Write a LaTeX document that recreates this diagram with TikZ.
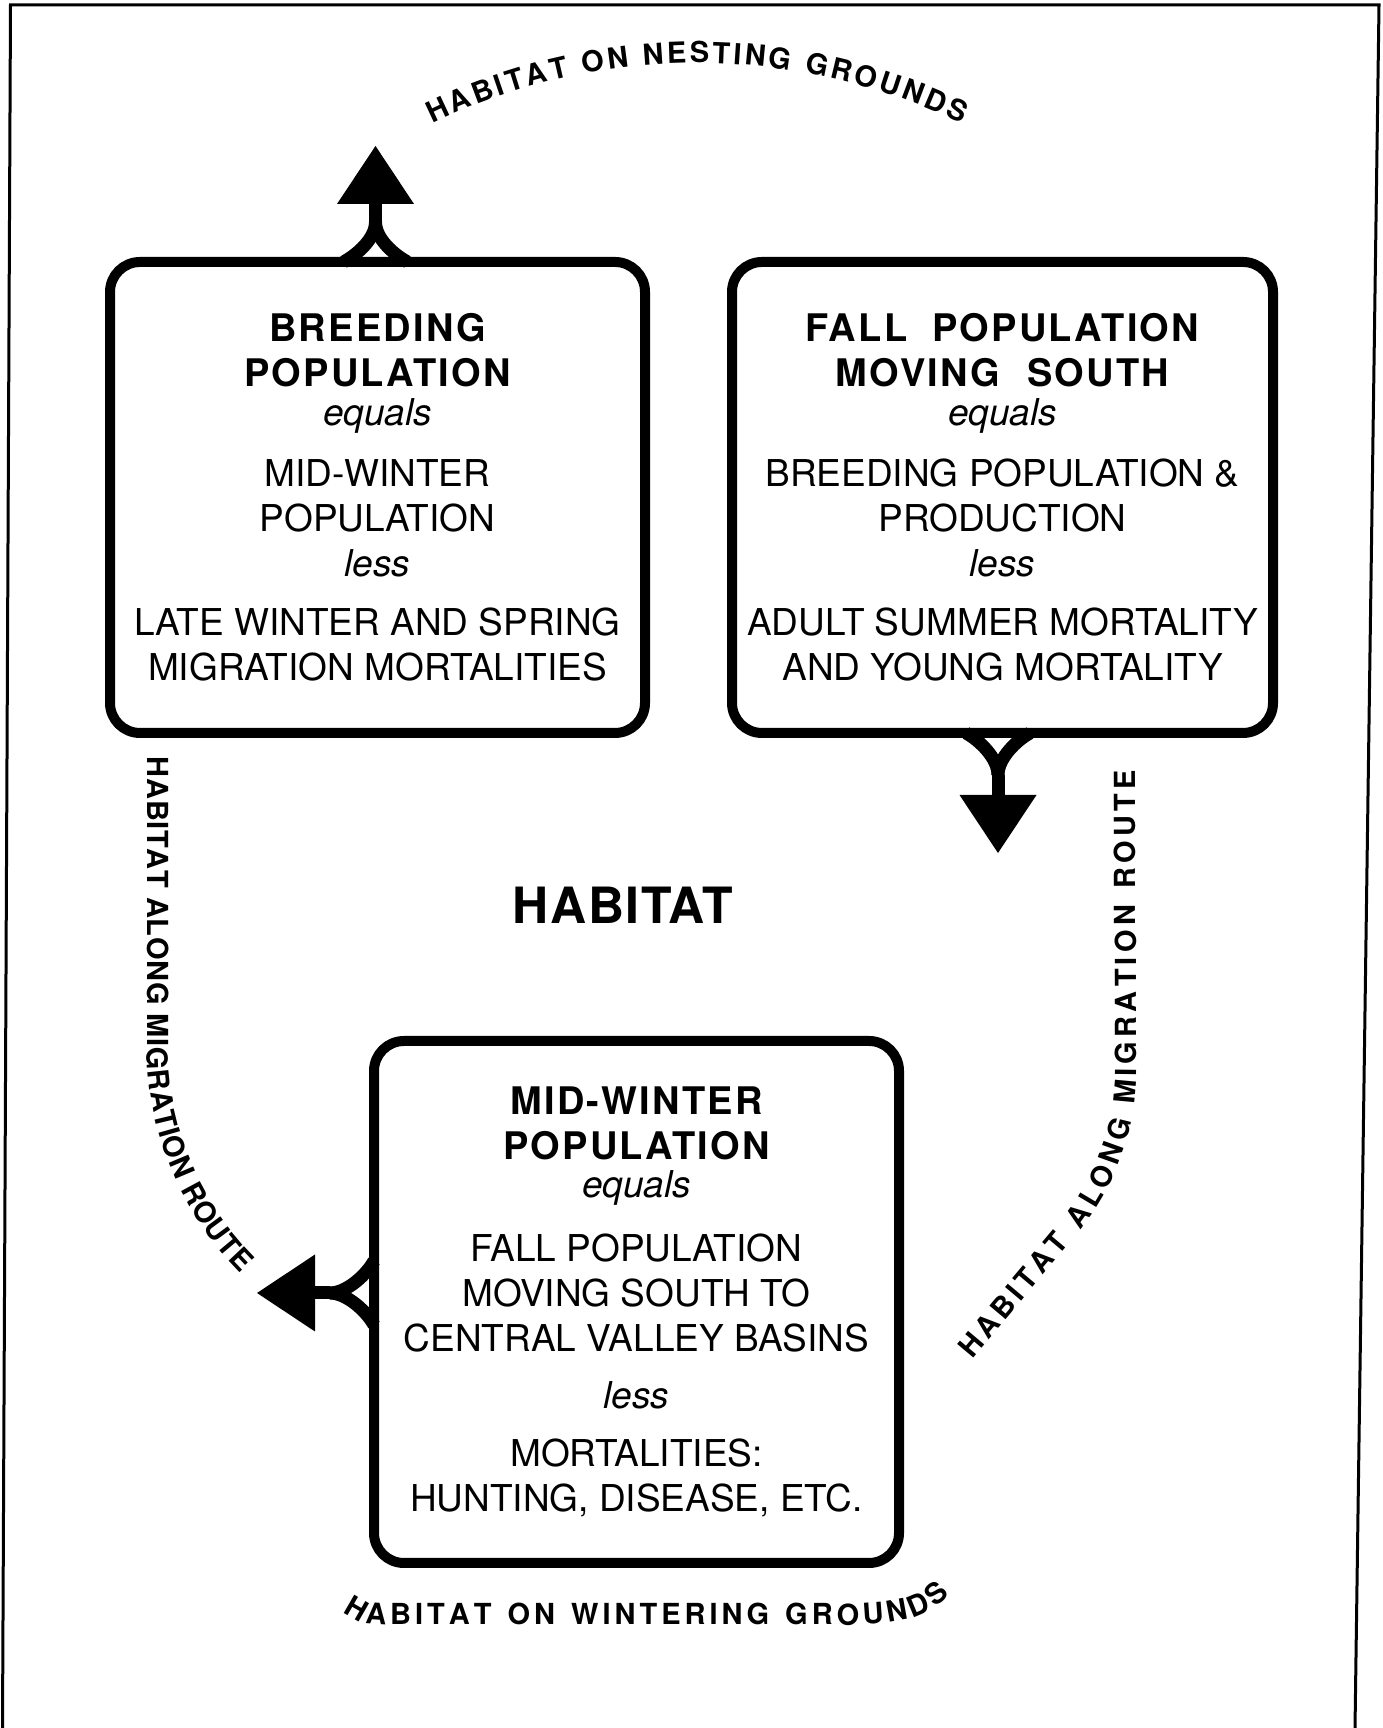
\documentclass[tikz,border=0pt]{standalone}
\usepackage{fontspec}
\setmainfont{TeX Gyre Heros}
\usetikzlibrary{arrows.meta,calc,decorations.text}

\newcommand\bodysize{\fontsize{37}{45}\selectfont}
\newcommand\titleline[1]{{\fontsize{38}{45}\selectfont\bfseries\addfontfeature{LetterSpace=6}#1}}
\newcommand\curvefont{\fontsize{29}{29}\selectfont\bfseries}

\tikzset{
	popbox/.style={draw, line width=10pt, rounded corners=30pt, align=center, font=\bodysize, inner sep=0pt},
	branch/.style={line width=13pt},
	headarrow/.style={line width=13pt, -{Triangle[length=58pt,width=77pt,line width=0pt]}},
	frame/.style={line width=3pt},
	curved/.style={decorate, decoration={text along path, text align=fit to path, text={|\curvefont|#1}}}
}

\begin{document}
\begin{tikzpicture}[x=1pt,y=1pt]
\useasboundingbox (0,0) rectangle (1382,1728);
\draw[frame] (2.5,0) -- (10.5,1723) -- (1379,1723) -- (1355,0);

\node[popbox, minimum width=535pt, minimum height=471pt] (breed) at (377.5,1230.5) {
	\titleline{BREEDING}\\ \titleline{POPULATION}\\[-6pt]
	\textit{equals}\\[16pt]
	MID-WINTER\\ POPULATION\\
	\textit{less}\\[14pt]
	LATE WINTER AND SPRING\\ MIGRATION MORTALITIES};
\node[popbox, minimum width=541pt, minimum height=471pt] (fall) at (1002.5,1230.5) {
	\titleline{FALL\ \hspace{12pt}POPULATION}\\ \titleline{MOVING\ \hspace{14pt}SOUTH}\\[-6pt]
	\textit{equals}\\[16pt]
	BREEDING POPULATION \&\\ PRODUCTION\\
	\textit{less}\\[14pt]
	ADULT SUMMER MORTALITY\\ AND YOUNG MORTALITY};
\node[popbox, minimum width=525pt, minimum height=522pt] (winter) at (636.5,426) {
	\titleline{MID-WINTER}\\ \titleline{POPULATION}\\[-7pt]
	\textit{equals}\\[19pt]
	FALL POPULATION\\ MOVING SOUTH TO\\ CENTRAL VALLEY BASINS\\[12pt]
	\textit{less}\\[13pt]
	MORTALITIES:\\ HUNTING, DISEASE, ETC.};
\node[font=\fontsize{50}{50}\selectfont\bfseries\addfontfeature{LetterSpace=3}] (habitat) at (623,823) {HABITAT};

% forked arrows
\coordinate (upFork) at ($(breed.north)+(-2,35)$);
\coordinate (nestTip) at ($(upFork)+(0,76)$);
\draw[branch] ($(breed.north)+(-34,-5)$) .. controls +(13,7) and +(0,-17) .. (upFork);
\draw[branch] ($(breed.north)+(30,-5)$) .. controls +(-13,7) and +(0,-17) .. (upFork);
\draw[headarrow] (upFork) -- (nestTip);

\coordinate (downFork) at ($(fall.south)+(-4.5,-37)$);
\coordinate (southTip) at ($(downFork)+(0,-78)$);
\draw[branch] ($(fall.south)+(-36.5,5)$) .. controls +(13,-7) and +(0,17) .. (downFork);
\draw[branch] ($(fall.south)+(27.5,5)$) .. controls +(-13,-7) and +(0,17) .. (downFork);
\draw[headarrow] (downFork) -- (southTip);

\coordinate (leftFork) at ($(winter.west)+(-39,9)$);
\coordinate (routeTip) at ($(leftFork)+(-73,0)$);
\draw[branch] ($(winter.west)+(5,41)$) .. controls +(-7,-13) and +(17,0) .. (leftFork);
\draw[branch] ($(winter.west)+(5,-23)$) .. controls +(-7,13) and +(17,0) .. (leftFork);
\draw[headarrow] (leftFork) -- (routeTip);

% habitat labels
\coordinate (nestStart) at (432.2,1603.9);
\coordinate (leftTop) at (147,971);
\coordinate (rightStart) at (972,368);
\coordinate (winterStart) at (343,116);
\path[curved={HABITAT ON NESTING GROUNDS}] (nestStart) arc[start angle=116, end angle=64, radius=604];
\path[curved={HABITAT ALONG MIGRATION ROUTE}] (leftTop) -- ++(0,-290) arc[start angle=180, end angle=225, radius=320];
\path[curved={HABITAT ALONG MIGRATION ROUTE}] (rightStart) -- (1075.8,491.6) arc[start angle=-40, end angle=0, radius=260] -- (1135,958);
\path[curved={HABITAT ON WINTERING GROUNDS}] (winterStart) .. controls (362,104) .. (400,103) -- (840,103) .. controls (905,103) and (930,112) .. (950,133);
\end{tikzpicture}
\end{document}
